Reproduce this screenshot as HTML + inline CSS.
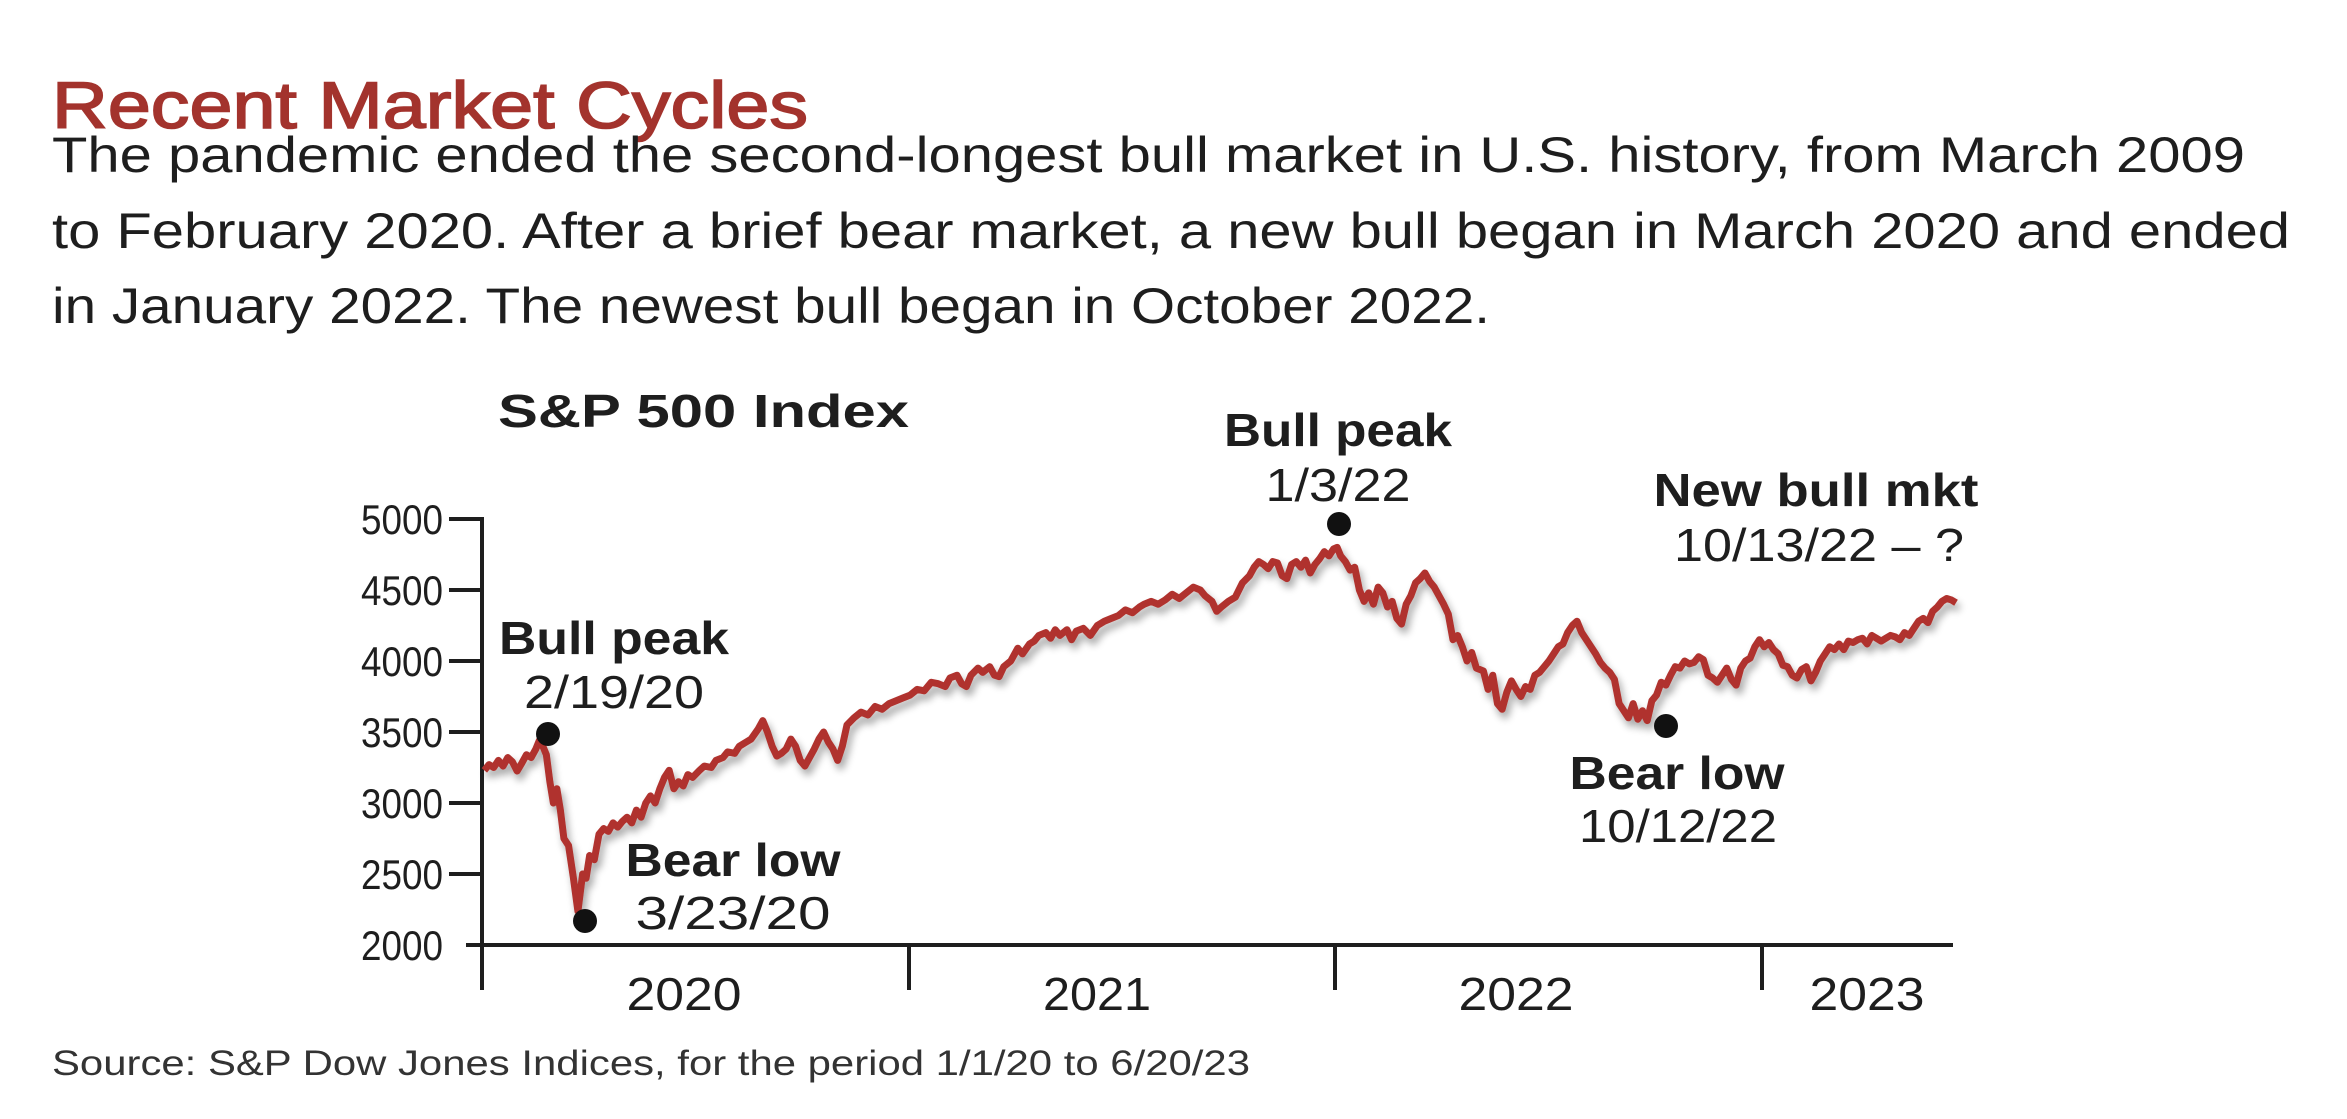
<!DOCTYPE html>
<html><head><meta charset="utf-8"><style>
html,body{margin:0;padding:0;background:#fff;}
svg{display:block;}
text{font-family:"Liberation Sans",sans-serif;fill:#1e1e1e;}
</style></head><body>
<svg width="2347" height="1119" viewBox="0 0 2347 1119" xmlns="http://www.w3.org/2000/svg">
<defs>
<filter id="sh" x="-5%" y="-5%" width="110%" height="120%">
<feGaussianBlur in="SourceAlpha" stdDeviation="4"/>
<feOffset dx="3" dy="6" result="b"/>
<feComponentTransfer><feFuncA type="linear" slope="0.35"/></feComponentTransfer>
<feMerge><feMergeNode/><feMergeNode in="SourceGraphic"/></feMerge>
</filter>
</defs>
<text x="52" y="128" font-size="66" style="fill:#a3332d;stroke:#a3332d;stroke-width:1.6" textLength="756" lengthAdjust="spacingAndGlyphs">Recent Market Cycles</text>
<text x="52" y="172" font-size="50" textLength="2193" lengthAdjust="spacingAndGlyphs">The pandemic ended the second-longest bull market in U.S. history, from March 2009</text>
<text x="52" y="248" font-size="50" textLength="2238" lengthAdjust="spacingAndGlyphs">to February 2020. After a brief bear market, a new bull began in March 2020 and ended</text>
<text x="52" y="323" font-size="50" textLength="1438" lengthAdjust="spacingAndGlyphs">in January 2022. The newest bull began in October 2022.</text>
<text x="498" y="427" font-size="46" font-weight="bold" textLength="411" lengthAdjust="spacingAndGlyphs">S&amp;P 500 Index</text>

<g stroke="#1e1e1e" stroke-width="4" fill="none">
<line x1="482" y1="517" x2="482" y2="990"/>
<line x1="466" y1="945" x2="1953" y2="945"/>
<line x1="449" y1="519" x2="482" y2="519"/>
<line x1="449" y1="590" x2="482" y2="590"/>
<line x1="449" y1="661" x2="482" y2="661"/>
<line x1="449" y1="732" x2="482" y2="732"/>
<line x1="449" y1="803" x2="482" y2="803"/>
<line x1="449" y1="874" x2="482" y2="874"/>
<line x1="909" y1="945" x2="909" y2="990"/>
<line x1="1335" y1="945" x2="1335" y2="990"/>
<line x1="1762" y1="945" x2="1762" y2="990"/>
</g>
<g font-size="42" text-anchor="end">
<text x="443" y="534" textLength="82" lengthAdjust="spacingAndGlyphs">5000</text>
<text x="443" y="605" textLength="82" lengthAdjust="spacingAndGlyphs">4500</text>
<text x="443" y="676" textLength="82" lengthAdjust="spacingAndGlyphs">4000</text>
<text x="443" y="747" textLength="82" lengthAdjust="spacingAndGlyphs">3500</text>
<text x="443" y="818" textLength="82" lengthAdjust="spacingAndGlyphs">3000</text>
<text x="443" y="889" textLength="82" lengthAdjust="spacingAndGlyphs">2500</text>
<text x="443" y="960" textLength="82" lengthAdjust="spacingAndGlyphs">2000</text>
</g>
<g font-size="46" text-anchor="middle">
<text x="684" y="1010" textLength="115" lengthAdjust="spacingAndGlyphs">2020</text>
<text x="1097" y="1010" textLength="108" lengthAdjust="spacingAndGlyphs">2021</text>
<text x="1516" y="1010" textLength="115" lengthAdjust="spacingAndGlyphs">2022</text>
<text x="1867" y="1010" textLength="115" lengthAdjust="spacingAndGlyphs">2023</text>
</g>

<g filter="url(#sh)">
<polyline transform="translate(482,945) scale(1.16986,-0.142) translate(0,-2000)" vector-effect="non-scaling-stroke" fill="none" stroke="#b0322d" stroke-width="7" stroke-linejoin="round"
points="2,3230 6,3270 10,3250 14,3300 18,3260 22,3320 26,3290 30,3225 34,3280 38,3340 42,3320 46,3380 49,3440 52,3400 55,3340 58,3150 61,3000 64,3100 67,2950 70,2750 74,2700 78,2480 82,2237 86,2500 89,2470 92,2630 96,2600 100,2780 104,2820 108,2800 112,2860 116,2830 120,2870 124,2900 128,2860 132,2950 136,2900 140,3000 144,3050 148,3000 152,3100 156,3180 160,3230 164,3100 168,3150 172,3120 176,3200 180,3180 186,3230 190,3260 196,3250 200,3300 206,3320 210,3360 216,3350 220,3400 226,3430 230,3450 236,3520 240,3580 244,3500 248,3400 252,3330 256,3350 260,3380 264,3450 268,3400 272,3300 276,3260 280,3320 284,3380 288,3450 292,3500 296,3430 300,3380 304,3300 308,3400 312,3550 318,3600 324,3640 330,3620 336,3680 342,3660 348,3700 354,3720 360,3740 366,3760 372,3800 378,3790 384,3850 390,3840 396,3820 400,3880 406,3900 410,3840 414,3820 418,3900 424,3950 428,3920 434,3960 438,3900 442,3890 446,3960 452,4000 458,4090 462,4050 468,4120 472,4140 476,4180 482,4200 486,4160 490,4220 494,4180 500,4220 504,4150 508,4210 514,4230 520,4180 526,4250 532,4280 538,4300 544,4320 550,4360 556,4340 562,4380 566,4400 572,4420 578,4400 584,4430 590,4470 596,4440 602,4480 608,4520 614,4500 618,4460 624,4420 628,4350 632,4380 638,4420 644,4450 650,4550 656,4600 660,4660 664,4700 668,4680 672,4650 676,4700 680,4690 684,4600 688,4580 692,4680 696,4700 700,4660 704,4710 708,4620 712,4680 716,4720 720,4770 724,4740 728,4790 731,4800 734,4740 738,4700 742,4640 746,4660 750,4500 754,4420 758,4480 762,4400 766,4520 770,4480 774,4380 778,4420 782,4300 786,4260 790,4400 794,4460 798,4550 802,4580 806,4620 810,4560 814,4520 818,4460 822,4400 826,4330 830,4150 834,4180 838,4100 842,4000 846,4060 850,3950 856,3930 860,3800 864,3900 868,3700 872,3660 876,3780 880,3860 884,3800 888,3750 892,3820 896,3800 900,3900 904,3920 908,3960 912,4000 916,4050 920,4100 924,4120 928,4200 932,4250 936,4280 940,4200 944,4150 948,4100 952,4050 956,3990 960,3950 964,3920 968,3870 972,3700 976,3650 980,3600 984,3700 988,3590 992,3650 996,3580 1000,3720 1004,3760 1008,3850 1012,3830 1016,3900 1020,3960 1024,3950 1028,4000 1032,3980 1036,3990 1040,4030 1044,4010 1048,3900 1052,3880 1056,3850 1060,3900 1064,3950 1068,3870 1072,3830 1076,3950 1080,4000 1084,4020 1088,4100 1092,4150 1096,4100 1100,4130 1104,4080 1108,4050 1112,3970 1116,3960 1120,3900 1124,3880 1128,3940 1132,3960 1136,3860 1140,3920 1144,4000 1148,4050 1152,4100 1156,4080 1160,4120 1164,4080 1168,4140 1172,4130 1176,4150 1180,4160 1184,4120 1188,4180 1192,4160 1196,4140 1200,4160 1204,4180 1208,4170 1212,4150 1216,4200 1220,4180 1224,4230 1228,4280 1232,4300 1236,4270 1240,4350 1244,4380 1248,4420 1252,4440 1256,4430 1260,4410"/>
</g>

<g fill="#111">
<circle cx="548" cy="734" r="12"/>
<circle cx="585" cy="921" r="12"/>
<circle cx="1339" cy="524" r="12"/>
<circle cx="1666" cy="726" r="12"/>
</g>

<g font-size="46" text-anchor="middle">
<text x="614" y="654" font-weight="bold" textLength="230" lengthAdjust="spacingAndGlyphs">Bull peak</text>
<text x="614" y="708" textLength="180" lengthAdjust="spacingAndGlyphs">2/19/20</text>
<text x="733" y="876" font-weight="bold" textLength="215" lengthAdjust="spacingAndGlyphs">Bear low</text>
<text x="733" y="929" textLength="195" lengthAdjust="spacingAndGlyphs">3/23/20</text>
<text x="1338" y="446" font-weight="bold" textLength="228" lengthAdjust="spacingAndGlyphs">Bull peak</text>
<text x="1338" y="501" textLength="145" lengthAdjust="spacingAndGlyphs">1/3/22</text>
<text x="1816" y="506" font-weight="bold" textLength="325" lengthAdjust="spacingAndGlyphs">New bull mkt</text>
<text x="1819" y="561" textLength="290" lengthAdjust="spacingAndGlyphs">10/13/22 – ?</text>
<text x="1677" y="789" font-weight="bold" textLength="215" lengthAdjust="spacingAndGlyphs">Bear low</text>
<text x="1678" y="842" textLength="198" lengthAdjust="spacingAndGlyphs">10/12/22</text>
</g>

<text x="52" y="1075" font-size="35" style="fill:#333" textLength="1198" lengthAdjust="spacingAndGlyphs">Source: S&amp;P Dow Jones Indices, for the period 1/1/20 to 6/20/23</text>
</svg>
</body></html>
